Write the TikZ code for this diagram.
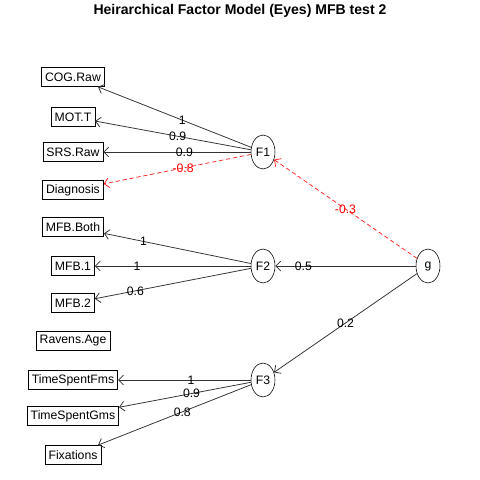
\documentclass[tikz,border=0pt]{standalone}
\usepackage{fontspec}
\setmainfont{Liberation Sans}
\usetikzlibrary{arrows.meta,shapes.geometric}

\begin{document}
\begin{tikzpicture}[
    obs/.style={draw, rectangle, minimum height=0.48cm, inner xsep=2.5pt, inner ysep=1pt, font=\fontsize{8.7}{10}\selectfont},
    lat/.style={draw, ellipse, minimum width=0.6cm, minimum height=0.85cm, inner sep=0pt, font=\fontsize{8.7}{10}\selectfont},
    load/.style={black!80, line width=0.55pt, -{Straight Barb[length=3.5pt,width=7pt]}},
    neg/.style={red!85, line width=0.55pt, dash pattern=on 3pt off 2pt, -{Straight Barb[length=3.5pt,width=7pt]}},
    lab/.style={font=\fontsize{8.7}{10}\selectfont, inner sep=0pt, text=black}
  ]
    \useasboundingbox (0,0) rectangle (12,12);
    \node[font=\bfseries\fontsize{10}{12}\selectfont] (title) at (6, 11.72) {Heirarchical Factor Model (Eyes) MFB test 2};

    % observed variables
    \node[obs] (cog)    at (1.825, 10.075) {COG.Raw};
    \node[obs] (mot)    at (1.825, 9.075)  {MOT.T};
    \node[obs] (srs)    at (1.825, 8.2)    {SRS.Raw};
    \node[obs] (diag)   at (1.825, 7.25)   {Diagnosis};
    \node[obs] (both)   at (1.825, 6.325)  {MFB.Both};
    \node[obs] (mfbone) at (1.825, 5.35)   {MFB.1};
    \node[obs] (mfbtwo) at (1.825, 4.425)  {MFB.2};
    \node[obs] (ravens) at (1.825, 3.475)  {Ravens.Age};
    \node[obs] (fms)    at (1.825, 2.5)    {TimeSpentFms};
    \node[obs] (gms)    at (1.825, 1.6)    {TimeSpentGms};
    \node[obs] (fix)    at (1.825, 0.625)  {Fixations};

    % factors
    \node[lat] (F1) at (6.575, 8.2)  {F1};
    \node[lat] (F2) at (6.575, 5.35) {F2};
    \node[lat] (F3) at (6.575, 2.5)  {F3};
    \node[lat] (g)  at (10.7, 5.35)  {g};

    % loadings
    \draw[load] (F1) -- node[lab, pos=0.45]{1} (cog);
    \draw[load] (F1) -- node[lab, pos=0.47]{0.9} (mot);
    \draw[load] (F1) -- node[lab, pos=0.45]{0.9} (srs);
    \draw[neg]  (F1) -- node[lab, pos=0.46, text=red]{-0.8} (diag);

    \draw[load] (F2) -- node[lab, pos=0.73]{1} (both);
    \draw[load] (F2) -- node[lab, pos=0.73]{1} (mfbone);
    \draw[load] (F2) -- node[lab, pos=0.74]{0.6} (mfbtwo);

    \draw[load] (F3) -- node[lab, pos=0.45]{1} (fms);
    \draw[load] (F3) -- node[lab, pos=0.45]{0.9} (gms);
    \draw[load] (F3) -- node[lab, pos=0.45]{0.8} (fix);

    \draw[neg]  (g) -- node[lab, text=red]{-0.3} (F1);
    \draw[load] (g) -- node[lab, pos=0.8]{0.5} (F2);
    \draw[load] (g) -- node[lab]{0.2} (F3);
  \end{tikzpicture}
\end{document}
